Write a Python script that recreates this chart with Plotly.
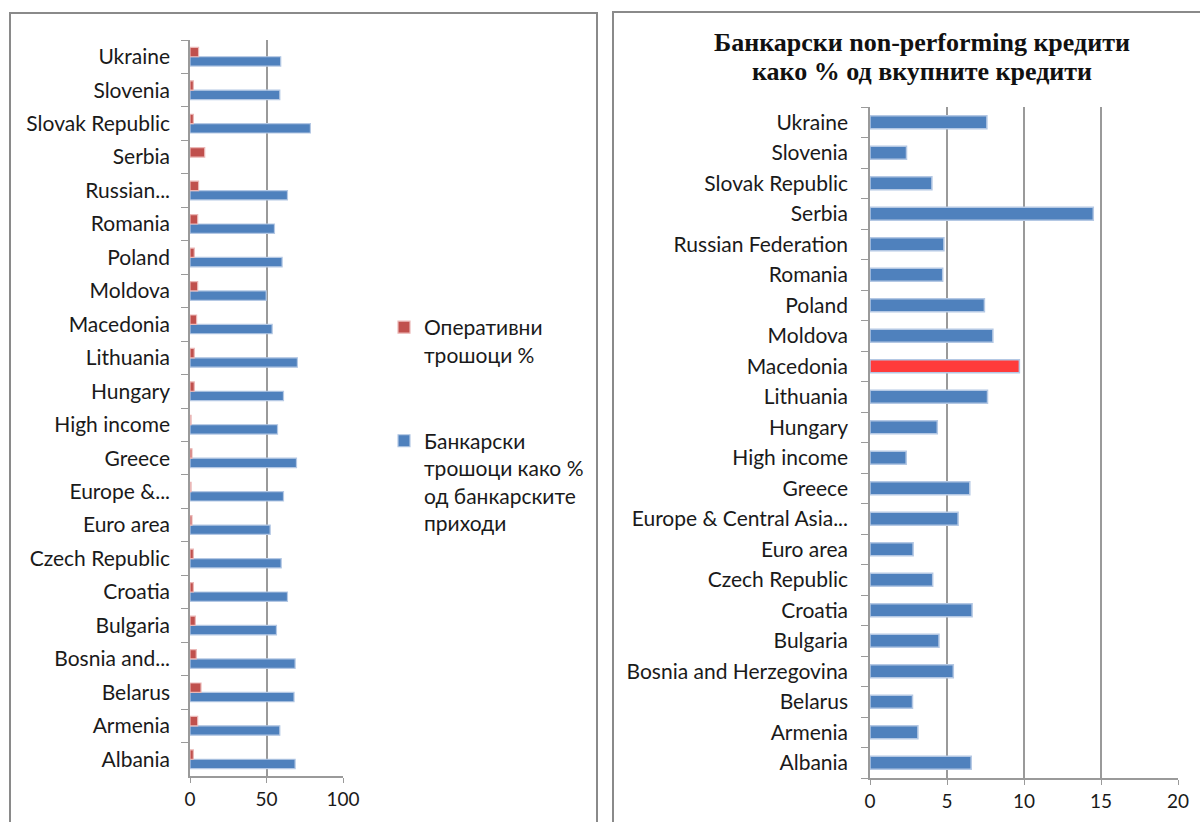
import plotly.graph_objects as go

W, H = 1200, 822

# ---- left panel: bank costs ----
left_categories = ["Albania", "Armenia", "Belarus", "Bosnia and Herzegovina", "Bulgaria",
                   "Croatia", "Czech Republic", "Euro area", "Europe & Central Asia",
                   "Greece", "High income", "Hungary", "Lithuania", "Macedonia",
                   "Moldova", "Poland", "Romania", "Russian Federation", "Serbia",
                   "Slovak Republic", "Slovenia", "Ukraine"]
left_ticktext = ["Albania", "Armenia", "Belarus", "Bosnia and...", "Bulgaria",
                 "Croatia", "Czech Republic", "Euro area", "Europe &...",
                 "Greece", "High income", "Hungary", "Lithuania", "Macedonia",
                 "Moldova", "Poland", "Romania", "Russian...", "Serbia",
                 "Slovak Republic", "Slovenia", "Ukraine"]
cost_to_income = [68.7, 58.7, 68.0, 68.7, 56.5, 63.7, 59.6, 52.4, 61.1, 69.6, 57.2,
                  61.1, 70.2, 53.7, 49.8, 60.2, 55.2, 63.7, None, 78.7, 58.7, 59.3]
operating_costs = [2.2, 5.0, 7.2, 4.1, 3.5, 2.2, 2.2, 1.3, 0.7, 1.3, 0.7,
                   2.8, 2.8, 4.3, 5.0, 2.8, 5.0, 5.6, 9.6, 2.2, 2.2, 5.6]
left_ticks = [0, 50, 100]

# ---- right panel: non-performing loans ----
right_categories = ["Albania", "Armenia", "Belarus", "Bosnia and Herzegovina", "Bulgaria",
                    "Croatia", "Czech Republic", "Euro area", "Europe & Central Asia (all income levels)",
                    "Greece", "High income", "Hungary", "Lithuania", "Macedonia",
                    "Moldova", "Poland", "Romania", "Russian Federation", "Serbia",
                    "Slovak Republic", "Slovenia", "Ukraine"]
right_ticktext = ["Albania", "Armenia", "Belarus", "Bosnia and Herzegovina", "Bulgaria",
                  "Croatia", "Czech Republic", "Euro area", "Europe & Central Asia...",
                  "Greece", "High income", "Hungary", "Lithuania", "Macedonia",
                  "Moldova", "Poland", "Romania", "Russian Federation", "Serbia",
                  "Slovak Republic", "Slovenia", "Ukraine"]
npl_share = [6.57, 3.11, 2.76, 5.41, 4.48, 6.63, 4.07, 2.8, 5.72, 6.48, 2.35,
             4.37, 7.63, 9.7, 7.98, 7.43, 4.72, 4.8, 14.5, 4.02, 2.37, 7.59]
right_ticks = [0, 5, 10, 15, 20]
highlight = "Macedonia"

title_lines = ["Банкарски non-performing кредити", "како % од вкупните кредити"]

BLUE, BLUE_EDGE = "#4F81BD", "#B4C8E4"
RED, RED_EDGE = "#C0504D", "#EBB8B7"
HIGHLIGHT = "#FF3B3B"
GRID = "#9a9a9a"
FONT = "Lato"


def px_x(x):
    return x / W


def px_y(y):
    return 1 - y / H


fig = go.Figure()

fig.add_trace(go.Bar(
    y=left_categories, x=cost_to_income, orientation="h",
    name="Банкарски<br>трошоци како %<br>од банкарските<br>приходи",
    marker=dict(color=BLUE, line=dict(color=BLUE_EDGE, width=1.2)),
    xaxis="x", yaxis="y", legendgroup="costs", legendrank=2,
))
fig.add_trace(go.Bar(
    y=left_categories, x=operating_costs, orientation="h",
    name="Оперативни<br>трошоци %",
    marker=dict(color=RED, line=dict(color=RED_EDGE, width=1.2)),
    xaxis="x", yaxis="y", legendgroup="operating", legendrank=1,
))

right_colors = [HIGHLIGHT if c == highlight else BLUE for c in right_categories]
fig.add_trace(go.Bar(
    y=right_categories, x=npl_share, orientation="h", showlegend=False,
    marker=dict(color=right_colors, line=dict(color=BLUE_EDGE, width=1.5)),
    width=0.42, xaxis="x2", yaxis="y2",
))

label_font = dict(family=FONT, size=21, color="#1a1a1a")
num_font = dict(family=FONT, size=19, color="#1a1a1a")

common_x = dict(
    showgrid=True, gridcolor=GRID, gridwidth=1.5,
    showline=True, linecolor=GRID, linewidth=1.5,
    ticks="outside", ticklen=5, tickcolor=GRID, tickfont=num_font,
    zeroline=False, automargin=False, fixedrange=True,
)
common_y = dict(
    type="category", categoryorder="array",
    showline=True, linecolor=GRID, linewidth=1.5, showgrid=False,
    ticks="outside", ticklen=7, tickcolor=GRID, tickson="boundaries",
    tickfont=label_font, automargin=False, fixedrange=True,
)

fig.update_layout(
    width=W, height=H,
    margin=dict(l=0, r=0, t=0, b=0, autoexpand=False),
    paper_bgcolor="white", plot_bgcolor="white",
    barmode="group", bargap=0.44, bargroupgap=0.0,
    showlegend=True,
    legend=dict(
        x=px_x(384), y=px_y(307), xanchor="left", yanchor="top",
        font=dict(family=FONT, size=21, color="#1a1a1a"),
        traceorder="grouped", tracegroupgap=56,
        valign="top", itemwidth=30, bgcolor="rgba(0,0,0,0)",
    ),
    xaxis=dict(domain=[px_x(190), px_x(343)], range=[0, 100], tickvals=left_ticks,
               anchor="y", **common_x),
    yaxis=dict(domain=[px_y(776), px_y(40)], categoryarray=left_categories,
               tickvals=left_categories, ticktext=left_ticktext,
               ticklabelstandoff=14, anchor="x", **common_y),
    xaxis2=dict(domain=[px_x(870), px_x(1178)], range=[0, 20], tickvals=right_ticks,
                anchor="y2", **common_x),
    yaxis2=dict(domain=[px_y(778), px_y(107)], categoryarray=right_categories,
                tickvals=right_categories, ticktext=right_ticktext,
                ticklabelstandoff=16, anchor="x2", **common_y),
)

# right panel title, one annotation per line
for line, y in zip(title_lines, [43, 71]):
    fig.add_annotation(
        xref="paper", yref="paper", x=px_x(922), y=px_y(y),
        xanchor="center", yanchor="middle", showarrow=False,
        text=f"<b>{line}</b>",
        font=dict(family="Liberation Serif", size=26, color="#111"),
    )

# chart frames
for x0, y0, x1 in [(10, 13, 597), (613, 12, 1215)]:
    fig.add_shape(
        type="rect", xref="paper", yref="paper",
        x0=px_x(x0), x1=px_x(x1), y0=px_y(y0), y1=px_y(840),
        line=dict(color="#8a8a8a", width=2), fillcolor="rgba(0,0,0,0)",
    )

fig.write_html("out.html")
